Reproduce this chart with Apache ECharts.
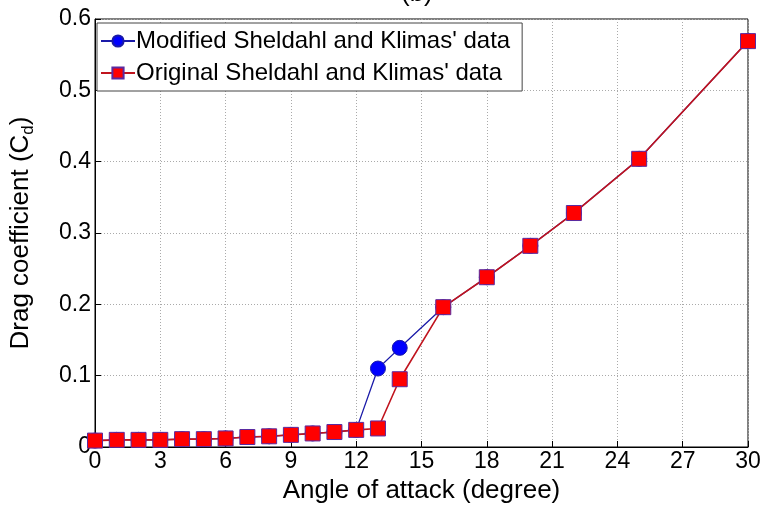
<!DOCTYPE html>
<html>
<head>
<meta charset="utf-8">
<script src="https://cdn.jsdelivr.net/npm/echarts@6/dist/echarts.min.js"></script>
<style>
  html, body { margin: 0; padding: 0; background: #fff; }
  #chart { width: 766px; height: 509px; }
</style>
</head>
<body>
<div id="chart"></div>
<script>
// angle of attack (degree)
const angles = [0, 1, 2, 3, 4, 5, 6, 7, 8, 9, 10, 11, 12, 13, 14, 16, 18, 20, 22, 25, 30];
// drag coefficient, modified data
const cdModified = [0.009, 0.010, 0.010, 0.010, 0.011, 0.011, 0.012, 0.014, 0.015, 0.017, 0.019, 0.021, 0.024, 0.110, 0.139, 0.196, 0.238, 0.282, 0.328, 0.404, 0.569];
// drag coefficient, original data
const cdOriginal = [0.009, 0.010, 0.010, 0.010, 0.011, 0.011, 0.012, 0.014, 0.015, 0.017, 0.019, 0.021, 0.024, 0.026, 0.095, 0.196, 0.238, 0.282, 0.328, 0.404, 0.569];
const xTicks = [0, 3, 6, 9, 12, 15, 18, 21, 24, 27, 30];
const yTicks = [0, 0.1, 0.2, 0.3, 0.4, 0.5, 0.6];

const FONT = 'Liberation Sans';

function pairs(xs, ys) {
    return xs.map((x, i) => [x, ys[i]]);
}

let chart = echarts.init(document.getElementById('chart'));

let option = {
    animation: false,
    textStyle: { fontFamily: FONT },
    title: {
        text: '(b)',
        left: 396,
        top: -24,
        textStyle: { fontFamily: FONT, fontSize: 26, fontWeight: 'normal', color: '#000' }
    },
    grid: {
        left: 93, right: 18, top: 19, bottom: 62,
        show: true, borderColor: '#000', borderWidth: 1
    },
    legend: {
        orient: 'vertical',
        left: 97, top: 23,
        padding: [6, 12, 6, 3],
        itemGap: 8,
        itemWidth: 34, itemHeight: 14,
        backgroundColor: '#fff',
        borderColor: '#444', borderWidth: 1,
        textStyle: { fontFamily: FONT, fontSize: 24, color: '#000', padding: [0, 0, 0, -4] },
        data: ["Modified Sheldahl and Klimas' data", "Original Sheldahl and Klimas' data"]
    },
    xAxis: {
        type: 'value',
        min: 0, max: 30, interval: 3,
        name: 'Angle of attack (degree)',
        nameLocation: 'middle', nameGap: 30,
        nameTextStyle: { fontFamily: FONT, fontSize: 26, color: '#000' },
        axisLine: { lineStyle: { color: '#000' } },
        axisTick: { inside: true, length: 6, lineStyle: { color: '#000' } },
        axisLabel: {
            fontFamily: FONT, fontSize: 23, color: '#000', margin: 3,
            formatter: v => xTicks.includes(v) ? String(v) : ''
        },
        splitLine: { show: true, lineStyle: { color: '#aaa', type: [1, 2] } }
    },
    yAxis: {
        type: 'value',
        min: 0, max: 0.6, interval: 0.1,
        name: '{n|Drag coefficient (C}{s|d}{n|)}',
        nameLocation: 'middle', nameGap: 58,
        nameTextStyle: {
            rich: {
                n: { fontFamily: FONT, fontSize: 26, color: '#000' },
                s: { fontFamily: FONT, fontSize: 17, color: '#000', padding: [15, 0, 0, 0] }
            }
        },
        axisLine: { lineStyle: { color: '#000' } },
        axisTick: { inside: true, length: 6, lineStyle: { color: '#000' } },
        axisLabel: {
            fontFamily: FONT, fontSize: 23, color: '#000', margin: 4,
            formatter: v => {
                let t = yTicks.find(y => Math.abs(y - v) < 1e-9);
                return t === undefined ? '' : String(t);
            }
        },
        splitLine: { show: true, lineStyle: { color: '#aaa', type: [1, 2] } }
    },
    series: [
        {
            name: "Modified Sheldahl and Klimas' data",
            type: 'line',
            data: pairs(angles, cdModified),
            symbol: 'circle', symbolSize: 15,
            lineStyle: { color: '#1a1aa8', width: 1.3 },
            itemStyle: { color: '#0000ff', borderColor: '#1a1aa8', borderWidth: 1 },
            z: 2
        },
        {
            name: "Original Sheldahl and Klimas' data",
            type: 'line',
            data: pairs(angles, cdOriginal),
            symbol: 'rect', symbolSize: 15,
            lineStyle: { color: '#c0141e', width: 1.6 },
            itemStyle: { color: '#ff0000', borderColor: '#5a2aa0', borderWidth: 1 },
            z: 3
        }
    ]
};
chart.setOption(option);
</script>
</body>
</html>
